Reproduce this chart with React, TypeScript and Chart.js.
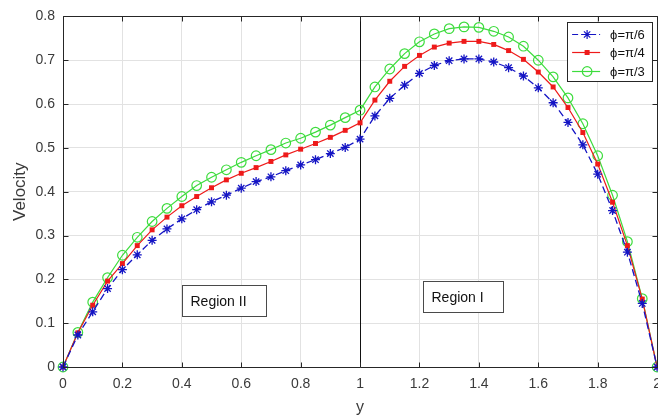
import React, { useEffect, useRef } from "react";
import { Chart, registerables } from "chart.js";

Chart.register(...registerables);

const xValues = [
  0, 0.05, 0.1, 0.15, 0.2, 0.25, 0.3, 0.35, 0.4, 0.45, 0.5, 0.55, 0.6, 0.65, 0.7, 0.75, 0.8, 0.85, 0.9, 0.95,
  1, 1.05, 1.1, 1.15, 1.2, 1.25, 1.3, 1.35, 1.4, 1.45, 1.5, 1.55, 1.6, 1.65, 1.7, 1.75, 1.8, 1.85, 1.9, 1.95, 2,
];

const phiPi6 = [
  0, 0.073, 0.126, 0.179, 0.222, 0.256, 0.289, 0.315, 0.338, 0.359, 0.377, 0.392, 0.408, 0.423, 0.434, 0.448,
  0.461, 0.473, 0.487, 0.501, 0.52, 0.573, 0.613, 0.643, 0.67, 0.688, 0.699, 0.703, 0.703, 0.696, 0.683, 0.664,
  0.637, 0.603, 0.558, 0.507, 0.44, 0.357, 0.262, 0.145, 0,
];

const phiPi4 = [
  0, 0.078, 0.141, 0.196, 0.236, 0.277, 0.313, 0.342, 0.368, 0.389, 0.409, 0.427, 0.442, 0.455, 0.469, 0.484,
  0.497, 0.51, 0.524, 0.54, 0.557, 0.609, 0.652, 0.686, 0.711, 0.73, 0.739, 0.743, 0.743, 0.736, 0.722, 0.702,
  0.673, 0.639, 0.592, 0.535, 0.463, 0.376, 0.277, 0.155, 0,
];

const phiPi3 = [
  0, 0.079, 0.148, 0.204, 0.255, 0.296, 0.332, 0.362, 0.389, 0.414, 0.433, 0.45, 0.467, 0.482, 0.496, 0.511,
  0.522, 0.536, 0.552, 0.569, 0.586, 0.639, 0.68, 0.715, 0.742, 0.76, 0.772, 0.776, 0.775, 0.766, 0.753, 0.732,
  0.7, 0.662, 0.614, 0.555, 0.482, 0.392, 0.286, 0.156, 0,
];

const seriesLabels = ["ϕ=π/6", "ϕ=π/4", "ϕ=π/3"];
const xTicks = [0, 0.2, 0.4, 0.6, 0.8, 1, 1.2, 1.4, 1.6, 1.8, 2];
const yTicks = [0, 0.1, 0.2, 0.3, 0.4, 0.5, 0.6, 0.7, 0.8];
const xTitle = "y";
const yTitle = "Velocity";
const regionNames = ["Region II", "Region I"];
const dividerX = 1;

const FONT = "'Liberation Sans', Arial, Helvetica, sans-serif";
const AXIS = "#262626";
const LABEL = "#3a3a3a";
const BLUE = "#1414c4";
const RED = "#ee1a1a";
const GREEN = "#3ddc3d";

const overlay = {
  id: "overlay",
  beforeDatasetsDraw(chart: any) {
    const { ctx, chartArea, scales } = chart;
    const px = Math.round(scales.x.getPixelForValue(dividerX)) + 0.5;
    ctx.save();
    ctx.strokeStyle = "#111";
    ctx.lineWidth = 1;
    ctx.beginPath();
    ctx.moveTo(px, chartArea.top);
    ctx.lineTo(px, chartArea.bottom);
    ctx.stroke();
    ctx.restore();
  },
  afterDatasetsDraw(chart: any) {
    const { ctx, chartArea, scales } = chart;
    const { left, right, top, bottom } = chartArea;
    const xs = scales.x;
    const ys = scales.y;
    ctx.save();
    ctx.strokeStyle = AXIS;
    ctx.lineWidth = 1;
    const L = Math.round(left) + 0.5;
    const R = Math.round(right) + 0.5;
    const T = Math.round(top) + 0.5;
    const B = Math.round(bottom) + 0.5;
    ctx.beginPath();
    ctx.rect(L, T, R - L, B - T);
    ctx.stroke();
    const tl = 5;
    ctx.beginPath();
    xTicks.forEach((v) => {
      const p = Math.round(xs.getPixelForValue(v)) + 0.5;
      ctx.moveTo(p, B);
      ctx.lineTo(p, B - tl);
      ctx.moveTo(p, T);
      ctx.lineTo(p, T + tl);
    });
    yTicks.forEach((v) => {
      const p = Math.round(ys.getPixelForValue(v)) + 0.5;
      ctx.moveTo(L, p);
      ctx.lineTo(L + tl, p);
      ctx.moveTo(R, p);
      ctx.lineTo(R - tl, p);
    });
    ctx.stroke();

    const boxes = [
      { text: regionNames[0], x0: 0.401, x1: 0.682, y0: 0.116, y1: 0.186 },
      { text: regionNames[1], x0: 1.211, x1: 1.481, y0: 0.126, y1: 0.1955 },
    ];
    ctx.font = `14px ${FONT}`;
    ctx.textBaseline = "middle";
    ctx.textAlign = "left";
    boxes.forEach((b) => {
      const bx0 = Math.round(xs.getPixelForValue(b.x0)) + 0.5;
      const bx1 = Math.round(xs.getPixelForValue(b.x1)) + 0.5;
      const by0 = Math.round(ys.getPixelForValue(b.y1)) + 0.5;
      const by1 = Math.round(ys.getPixelForValue(b.y0)) + 0.5;
      ctx.fillStyle = "#fff";
      ctx.fillRect(bx0, by0, bx1 - bx0, by1 - by0);
      ctx.strokeStyle = "#4a4a4a";
      ctx.strokeRect(bx0, by0, bx1 - bx0, by1 - by0);
      ctx.fillStyle = "#111";
      ctx.fillText(b.text, bx0 + 8, (by0 + by1) / 2 + 1);
    });

    const lgR = right - 5;
    const lgL = lgR - 85;
    const lgT = top + 5.5;
    const lgH = 59;
    ctx.fillStyle = "#fff";
    ctx.fillRect(Math.round(lgL) + 0.5, Math.round(lgT) + 0.5, 85, lgH);
    ctx.strokeStyle = AXIS;
    ctx.strokeRect(Math.round(lgL) + 0.5, Math.round(lgT) + 0.5, 85, lgH);
    const rows = [12, 30, 49];
    const styles = [
      { color: BLUE, dash: [6, 3], marker: "star" },
      { color: RED, dash: [], marker: "rect" },
      { color: GREEN, dash: [], marker: "circle" },
    ];
    ctx.font = `13px ${FONT}`;
    rows.forEach((dy, i) => {
      const y = Math.round(lgT + dy) + 0.5;
      const s = styles[i];
      ctx.strokeStyle = s.color;
      ctx.lineWidth = 1.2;
      ctx.setLineDash(s.dash);
      ctx.beginPath();
      ctx.moveTo(lgL + 5, y);
      ctx.lineTo(lgL + 33, y);
      ctx.stroke();
      ctx.setLineDash([]);
      const mx = lgL + 20;
      ctx.beginPath();
      if (s.marker === "star") {
        const r = 4.5;
        ctx.moveTo(mx - r, y);
        ctx.lineTo(mx + r, y);
        ctx.moveTo(mx, y - r);
        ctx.lineTo(mx, y + r);
        const d = r * Math.SQRT1_2;
        ctx.moveTo(mx - d, y - d);
        ctx.lineTo(mx + d, y + d);
        ctx.moveTo(mx - d, y + d);
        ctx.lineTo(mx + d, y - d);
        ctx.stroke();
      } else if (s.marker === "rect") {
        ctx.fillStyle = s.color;
        ctx.fillRect(mx - 2.5, y - 2.5, 5, 5);
      } else {
        ctx.arc(mx, y, 4.8, 0, Math.PI * 2);
        ctx.stroke();
      }
      ctx.fillStyle = "#111";
      ctx.fillText(seriesLabels[i], lgL + 43, y + 1);
    });
    ctx.restore();
  },
};

export default function App() {
  const ref = useRef<HTMLCanvasElement | null>(null);

  useEffect(() => {
    if (!ref.current) return;
    const mk = (vals: number[]) => xValues.map((x, i) => ({ x, y: vals[i] }));
    const chart = new Chart(ref.current, {
      type: "line",
      data: {
        datasets: [
          {
            label: seriesLabels[0],
            data: mk(phiPi6),
            borderColor: BLUE,
            backgroundColor: BLUE,
            borderWidth: 1.3,
            borderDash: [7, 4],
            pointStyle: "star",
            pointRadius: 4.5,
            pointBorderColor: BLUE,
            pointBorderWidth: 1.3,
            tension: 0,
            clip: false as any,
          },
          {
            label: seriesLabels[1],
            data: mk(phiPi4),
            borderColor: RED,
            backgroundColor: RED,
            borderWidth: 1.2,
            pointStyle: "rect",
            pointRadius: 3.5,
            pointBackgroundColor: RED,
            pointBorderColor: RED,
            pointBorderWidth: 0,
            tension: 0,
            clip: false as any,
          },
          {
            label: seriesLabels[2],
            data: mk(phiPi3),
            borderColor: GREEN,
            backgroundColor: "rgba(0,0,0,0)",
            borderWidth: 1.2,
            pointStyle: "circle",
            pointRadius: 4.8,
            pointBackgroundColor: "rgba(0,0,0,0)",
            pointBorderColor: GREEN,
            pointBorderWidth: 1.2,
            tension: 0,
            clip: false as any,
          },
        ],
      },
      options: {
        animation: false,
        responsive: false,
        maintainAspectRatio: false,
        events: [],
        layout: { padding: { left: 0, right: 9, top: 15, bottom: 0 } },
        plugins: { legend: { display: false }, tooltip: { enabled: false } },
        scales: {
          x: {
            type: "linear",
            min: 0,
            max: 2,
            afterBuildTicks: (s: any) => {
              s.ticks = xTicks.map((v) => ({ value: v }));
            },
            afterFit: (s: any) => {
              s.height = 50;
            },
            grid: { color: "#e2e2e2", drawTicks: false, lineWidth: 1 },
            border: { display: false },
            ticks: {
              color: LABEL,
              font: { size: 14, family: FONT },
              padding: 9,
              maxRotation: 0,
              autoSkip: false,
              callback: (v: any) => String(Math.round(Number(v) * 10) / 10),
            },
            title: {
              display: true,
              text: xTitle,
              color: LABEL,
              font: { size: 16, family: FONT },
              padding: { top: 0, bottom: 0 },
            },
          },
          y: {
            type: "linear",
            min: 0,
            max: 0.8,
            afterBuildTicks: (s: any) => {
              s.ticks = yTicks.map((v) => ({ value: v }));
            },
            afterFit: (s: any) => {
              s.width = 63;
            },
            grid: { color: "#e2e2e2", drawTicks: false, lineWidth: 1 },
            border: { display: false },
            ticks: {
              color: LABEL,
              font: { size: 14, family: FONT },
              padding: 8,
              autoSkip: false,
              callback: (v: any) => String(Math.round(Number(v) * 10) / 10),
            },
            title: {
              display: true,
              text: yTitle,
              color: LABEL,
              font: { size: 17, family: FONT },
              padding: { top: 10, bottom: 0 },
            },
          },
        },
      },
      plugins: [overlay],
    } as any);
    return () => chart.destroy();
  }, []);

  return (
    <div
      style={{
        position: "fixed",
        left: 0,
        top: 0,
        width: 658,
        height: 417,
        overflow: "hidden",
        background: "#fff",
      }}
    >
      <canvas ref={ref} width={670} height={417} style={{ width: 670, height: 417, display: "block" }} />
    </div>
  );
}
